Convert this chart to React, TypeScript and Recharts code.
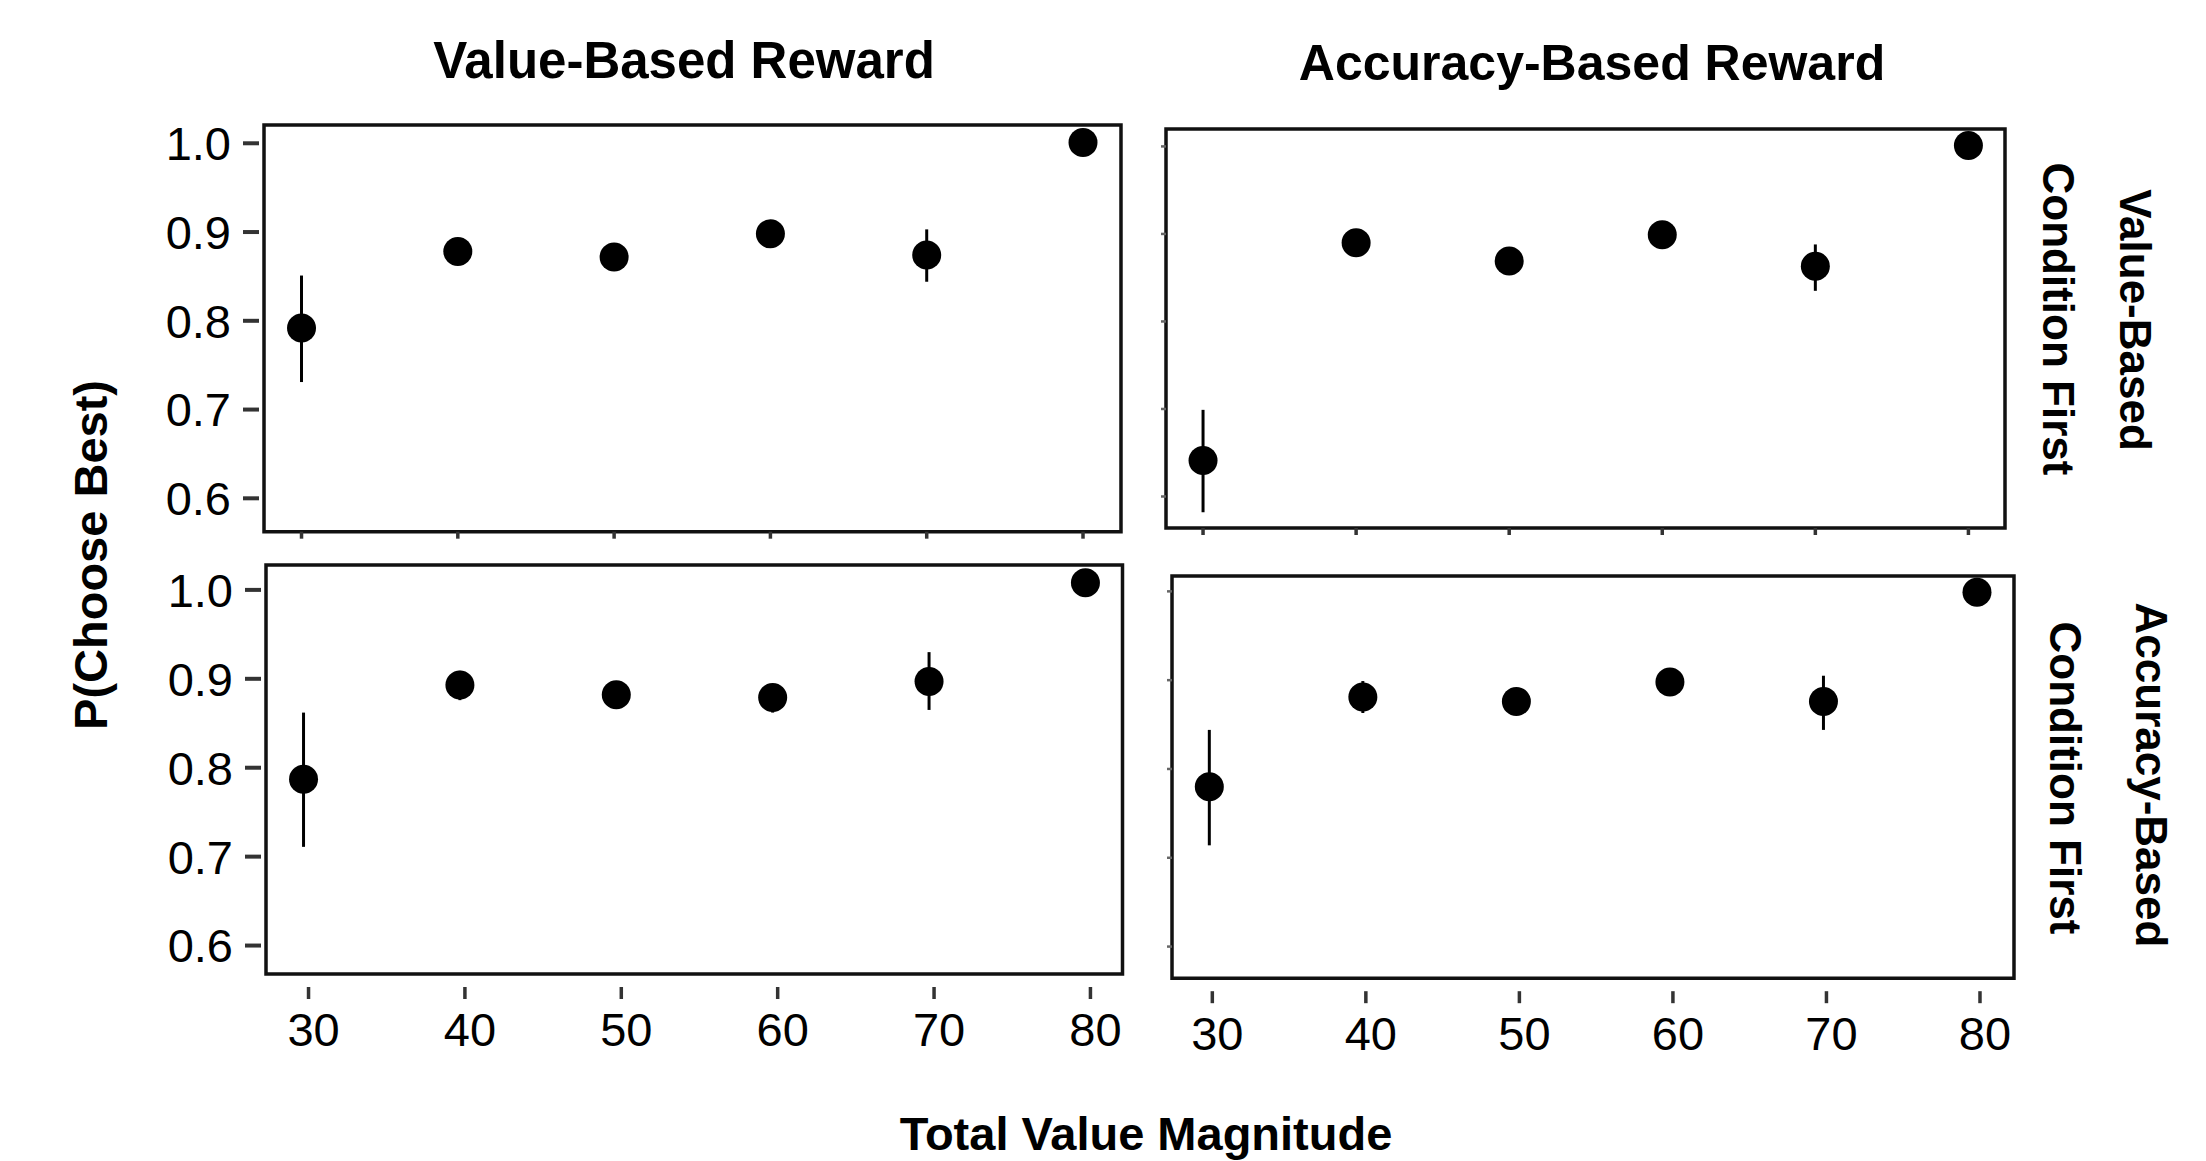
import React from 'react';
import { ScatterChart, Scatter, XAxis, YAxis, ErrorBar, ReferenceArea } from 'recharts';

// ---------------- data ----------------
const xValues = [30, 40, 50, 60, 70, 80];
const xTicks = [30, 40, 50, 60, 70, 80];
const yTicks = [0.6, 0.7, 0.8, 0.9, 1.0];

const columnTitles = ['Value-Based Reward', 'Accuracy-Based Reward'];
const rowTitlesTop = ['Value-Based', 'Condition First'];
const rowTitlesBottom = ['Accuracy-Based', 'Condition First'];
const yAxisTitle = 'P(Choose Best)';
const xAxisTitle = 'Total Value Magnitude';

// Value-Based Reward, Value-Based Condition First
const vrVcMean = [0.792, 0.878, 0.872, 0.898, 0.874, 1.001];
const vrVcLow = [0.731, 0.870, 0.864, 0.890, 0.844, 1.0];
const vrVcHigh = [0.851, 0.886, 0.880, 0.906, 0.903, 1.002];

// Accuracy-Based Reward, Value-Based Condition First
const arVcMean = [0.641, 0.890, 0.869, 0.899, 0.863, 1.001];
const arVcLow = [0.582, 0.881, 0.860, 0.890, 0.835, 1.0];
const arVcHigh = [0.699, 0.899, 0.878, 0.908, 0.888, 1.002];

// Value-Based Reward, Accuracy-Based Condition First
const vrAcMean = [0.787, 0.893, 0.882, 0.879, 0.897, 1.008];
const vrAcLow = [0.711, 0.876, 0.873, 0.862, 0.865, 1.007];
const vrAcHigh = [0.862, 0.909, 0.891, 0.892, 0.930, 1.009];

// Accuracy-Based Reward, Accuracy-Based Condition First
const arAcMean = [0.780, 0.881, 0.876, 0.898, 0.876, 0.999];
const arAcLow = [0.714, 0.863, 0.868, 0.890, 0.844, 0.998];
const arAcHigh = [0.844, 0.899, 0.884, 0.907, 0.905, 1.0];

// ---------------- layout ----------------
const FONT = '"Liberation Sans", Arial, Helvetica, sans-serif';
const PAD_L = 130;
const PAD_T = 30;
const PAD_R = 30;
const PAD_B = 100;

const buildRows = (mean: number[], low: number[], high: number[]) =>
  xValues.map((x, i) => ({ x, y: mean[i], err: [mean[i] - low[i], high[i] - mean[i]] }));

const panels = [
  {
    key: 'tl', mean: vrVcMean, low: vrVcLow, high: vrVcHigh,
    box: { L: 264, T: 125, R: 1121, B: 531.7 },
    xDomain: [27.6, 82.43], yDomain: [0.5624, 1.0206], yLabels: true, xLabels: false, xShift: 0,
  },
  {
    key: 'tr', mean: arVcMean, low: arVcLow, high: arVcHigh,
    box: { L: 1166, T: 129.3, R: 2005, B: 528.3 },
    xDomain: [27.58, 82.39], yDomain: [0.564, 1.0199], yLabels: false, xLabels: false, xShift: 0,
  },
  {
    key: 'bl', mean: vrAcMean, low: vrAcLow, high: vrAcHigh,
    box: { L: 265.5, T: 565, R: 1122, B: 974 },
    xDomain: [27.6, 82.37], yDomain: [0.568, 1.028], yLabels: true, xLabels: true, xShift: 5,
  },
  {
    key: 'br', mean: arAcMean, low: arAcLow, high: arAcHigh,
    box: { L: 1172, T: 576.4, R: 2014, B: 978.6 },
    xDomain: [27.57, 82.41], yDomain: [0.5644, 1.0173], yLabels: false, xLabels: true, xShift: 3,
  },
];

const makeYTick = (showLabel: boolean) => (props: any) => {
  const { x, y, payload } = props;
  if (!showLabel) {
    return (
      <g>
        <line x1={x - 5} x2={x} y1={y} y2={y} stroke="#666" strokeWidth={2.5} />
      </g>
    );
  }
  return (
    <g>
      <line x1={x - 21} x2={x - 5} y1={y} y2={y} stroke="#333" strokeWidth={4} />
      <text x={x - 33} y={y} dy="0.36em" textAnchor="end" fontSize={47} fill="#000" fontFamily={FONT}>
        {Number(payload.value).toFixed(1)}
      </text>
    </g>
  );
};

const makeXTick = (showLabel: boolean, shift: number) => (props: any) => {
  const { x, y, payload } = props;
  if (!showLabel) {
    return (
      <g>
        <line x1={x} x2={x} y1={y} y2={y + 7} stroke="#333" strokeWidth={3.5} />
      </g>
    );
  }
  const tx = x + shift;
  return (
    <g>
      <line x1={tx} x2={tx} y1={y + 13} y2={y + 25} stroke="#333" strokeWidth={3.5} />
      <text x={tx + 5} y={y + 72} textAnchor="middle" fontSize={47} fill="#000" fontFamily={FONT}>
        {payload.value}
      </text>
    </g>
  );
};

const Dot = (props: any) => {
  const { cx, cy } = props;
  if (cx == null || cy == null) return <g />;
  return <circle cx={cx} cy={cy} r={14.5} fill="#000" />;
};

const Panel = ({ p }: { p: (typeof panels)[number] }) => {
  const w = p.box.R - p.box.L;
  const h = p.box.B - p.box.T;
  const W = w + PAD_L + PAD_R;
  const H = h + PAD_T + PAD_B;
  const rows = buildRows(p.mean, p.low, p.high);
  return (
    <div style={{ position: 'absolute', left: p.box.L - PAD_L, top: p.box.T - PAD_T, width: W, height: H }}>
      <ScatterChart width={W} height={H} margin={{ top: PAD_T, right: PAD_R, left: 0, bottom: 0 }}>
        <XAxis
          type="number"
          dataKey="x"
          domain={p.xDomain}
          ticks={xTicks}
          interval={0}
          height={PAD_B}
          axisLine={false}
          tickLine={false}
          tickSize={0}
          tickMargin={0}
          tick={makeXTick(p.xLabels, p.xShift)}
        />
        <YAxis
          type="number"
          dataKey="y"
          domain={p.yDomain}
          ticks={yTicks}
          interval={0}
          width={PAD_L}
          axisLine={false}
          tickLine={false}
          tickSize={0}
          tickMargin={0}
          tick={makeYTick(p.yLabels)}
        />
        <ReferenceArea
          x1={p.xDomain[0]}
          x2={p.xDomain[1]}
          y1={p.yDomain[0]}
          y2={p.yDomain[1]}
          fill="none"
          fillOpacity={0}
          stroke="#111"
          strokeWidth={3.5}
          ifOverflow="visible"
        />
        <Scatter data={rows} isAnimationActive={false} shape={<Dot />} fill="#000">
          <ErrorBar dataKey="err" direction="y" width={0} stroke="#000" strokeWidth={3} isAnimationActive={false} />
        </Scatter>
      </ScatterChart>
    </div>
  );
};

export default function App() {
  return (
    <div
      style={{
        position: 'absolute',
        left: 0,
        top: 0,
        width: 2206,
        height: 1161,
        background: '#fff',
        overflow: 'hidden',
        fontFamily: FONT,
      }}
    >
      {panels.map((p) => (
        <Panel key={p.key} p={p} />
      ))}
      <svg
        width={2206}
        height={1161}
        style={{ position: 'absolute', left: 0, top: 0, pointerEvents: 'none' }}
      >
        <g fontFamily={FONT} fontWeight="bold" fill="#000">
          <text x={684} y={78} textAnchor="middle" fontSize={51}>{columnTitles[0]}</text>
          <text x={1592} y={80} textAnchor="middle" fontSize={50}>{columnTitles[1]}</text>
          <text x={107} y={555} textAnchor="middle" fontSize={47} transform="rotate(-90 107 555)">
            {yAxisTitle}
          </text>
          <text x={1146} y={1150} textAnchor="middle" fontSize={47}>{xAxisTitle}</text>
          <text x={2120} y={320} textAnchor="middle" fontSize={44} transform="rotate(90 2120 320)">
            {rowTitlesTop[0]}
          </text>
          <text x={2043} y={319} textAnchor="middle" fontSize={44} transform="rotate(90 2043 319)">
            {rowTitlesTop[1]}
          </text>
          <text x={2136} y={775} textAnchor="middle" fontSize={44} transform="rotate(90 2136 775)">
            {rowTitlesBottom[0]}
          </text>
          <text x={2050} y={778} textAnchor="middle" fontSize={44} transform="rotate(90 2050 778)">
            {rowTitlesBottom[1]}
          </text>
        </g>
      </svg>
    </div>
  );
}
